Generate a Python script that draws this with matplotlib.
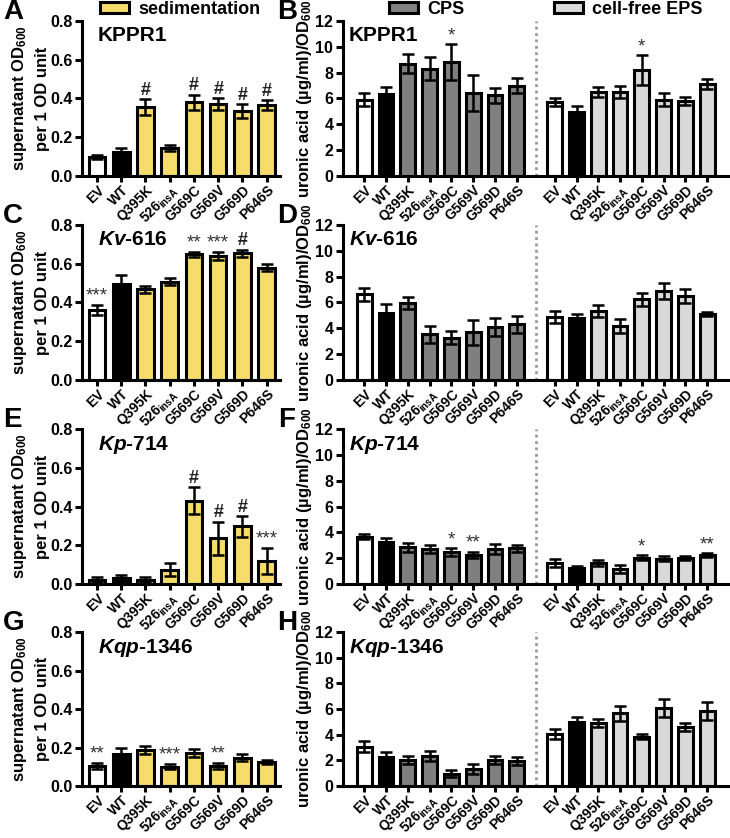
import matplotlib
matplotlib.use("Agg")
import matplotlib.pyplot as plt
from matplotlib.patches import Patch
import numpy as np

plt.rcParams['font.family'] = ['Liberation Sans', 'DejaVu Sans']
plt.rcParams['font.weight'] = 'bold'
plt.rcParams['mathtext.fontset'] = 'custom'
plt.rcParams['mathtext.rm'] = 'Liberation Sans:bold'
plt.rcParams['mathtext.bf'] = 'Liberation Sans:bold'
plt.rcParams['mathtext.it'] = 'Liberation Sans:italic:bold'

strains = ["EV", "WT", "Q395K", r"526$_{\mathrm{insA}}$", "G569C", "G569V", "G569D", "P646S"]

# sedimentation (supernatant OD600 per 1 OD unit)
sed_A = [0.10, 0.125, 0.355, 0.145, 0.38, 0.37, 0.335, 0.365]
sed_A_err = [0.01, 0.02, 0.04, 0.015, 0.04, 0.03, 0.035, 0.025]
sed_A_sig = ["", "", "#", "", "#", "#", "#", "#"]

sed_C = [0.36, 0.495, 0.468, 0.507, 0.648, 0.64, 0.654, 0.58]
sed_C_err = [0.025, 0.045, 0.017, 0.018, 0.013, 0.022, 0.017, 0.017]
sed_C_sig = ["***", "", "", "", "**", "***", "#", ""]

sed_E = [0.022, 0.031, 0.022, 0.074, 0.43, 0.235, 0.297, 0.118]
sed_E_err = [0.012, 0.014, 0.014, 0.033, 0.07, 0.085, 0.052, 0.068]
sed_E_sig = ["", "", "", "", "#", "#", "#", "***"]

sed_G = [0.104, 0.165, 0.187, 0.10, 0.17, 0.104, 0.147, 0.125]
sed_G_err = [0.014, 0.03, 0.02, 0.012, 0.02, 0.014, 0.017, 0.01]
sed_G_sig = ["**", "", "", "***", "", "**", "", ""]

# uronic acid: CPS and cell-free EPS
cps_B = [5.9, 6.36, 8.7, 8.3, 8.8, 6.4, 6.25, 7.0]
cps_B_err = [0.5, 0.5, 0.75, 0.9, 1.4, 1.4, 0.6, 0.6]
cps_B_sig = ["", "", "", "", "*", "", "", ""]
eps_B = [5.75, 4.96, 6.5, 6.5, 8.2, 5.9, 5.8, 7.1]
eps_B_err = [0.3, 0.45, 0.4, 0.5, 1.15, 0.5, 0.3, 0.4]
eps_B_sig = ["", "", "", "", "*", "", "", ""]

cps_D = [6.65, 5.16, 5.98, 3.54, 3.28, 3.69, 4.08, 4.31]
cps_D_err = [0.5, 0.72, 0.46, 0.64, 0.52, 0.95, 0.7, 0.67]
cps_D_sig = [""] * 8
eps_D = [4.9, 4.77, 5.34, 4.2, 6.24, 6.89, 6.5, 5.08]
eps_D_err = [0.46, 0.34, 0.44, 0.54, 0.52, 0.64, 0.52, 0.15]
eps_D_sig = [""] * 8

cps_F = [3.65, 3.29, 2.84, 2.71, 2.45, 2.24, 2.71, 2.76]
cps_F_err = [0.2, 0.26, 0.37, 0.32, 0.32, 0.26, 0.39, 0.26]
cps_F_sig = ["", "", "", "", "*", "**", "", ""]
eps_F = [1.63, 1.26, 1.63, 1.18, 2.05, 1.97, 2.0, 2.24]
eps_F_err = [0.29, 0.13, 0.21, 0.32, 0.18, 0.18, 0.13, 0.13]
eps_F_sig = ["", "", "", "", "*", "", "", "**"]

cps_H = [3.07, 2.29, 2.03, 2.34, 0.96, 1.33, 2.03, 1.95]
cps_H_err = [0.44, 0.36, 0.31, 0.39, 0.29, 0.36, 0.31, 0.34]
cps_H_sig = [""] * 8
eps_H = [4.09, 5.0, 4.9, 5.65, 3.85, 6.07, 4.6, 5.83]
eps_H_err = [0.39, 0.39, 0.31, 0.55, 0.18, 0.7, 0.34, 0.68]
eps_H_sig = [""] * 8

titles = ["KPPR1", "$Kv$-616", "$Kp$-714", "$Kqp$-1346"]
letters_left = ["A", "C", "E", "G"]
letters_right = ["B", "D", "F", "H"]

YELLOW = "#F6DC6A"
GRAY = "#808080"
LGRAY = "#D9D9D9"

W, H = 730, 838
fig = plt.figure(figsize=(W / 100, H / 100), dpi=100)

tops = [21, 225, 429, 632]
bots = [176, 380, 584, 786]

LW = 2.2
left_colors = ["white", "black"] + [YELLOW] * 6
cps_colors = ["white", "black"] + [GRAY] * 6
eps_colors = ["white", "black"] + [LGRAY] * 6

def style_axes(ax):
    for s in ["top", "right"]:
        ax.spines[s].set_visible(False)
    for s in ["left", "bottom"]:
        ax.spines[s].set_linewidth(LW)
    ax.tick_params(axis="both", width=LW, length=5, labelsize=11.5, pad=2)
    ax.tick_params(axis="x", labelsize=10, pad=0.5, length=4.5)
    for lab in ax.get_yticklabels():
        lab.set_fontweight("bold")

def draw_bars(ax, x, vals, errs, colors, sigs, sig_off):
    ax.bar(x, vals, width=0.68, color=colors, edgecolor="black", linewidth=LW, zorder=2)
    ax.errorbar(x, vals, yerr=errs, fmt="none", ecolor="black", elinewidth=1.8,
                capsize=4.5, capthick=1.8, zorder=3)
    for xi, v, e, s in zip(x, vals, errs, sigs):
        if s:
            if s == "#":
                ax.text(xi, v + e + sig_off, s, ha="center", va="bottom", fontsize=13,
                        fontweight="bold", color="#222222")
            else:
                ax.text(xi, v + e + sig_off, s, ha="center", va="bottom", fontsize=13.5,
                        fontweight="normal", color="#333333")

left_data = [(sed_A, sed_A_err, sed_A_sig), (sed_C, sed_C_err, sed_C_sig),
             (sed_E, sed_E_err, sed_E_sig), (sed_G, sed_G_err, sed_G_sig)]
right_data = [(cps_B, cps_B_err, cps_B_sig, eps_B, eps_B_err, eps_B_sig),
              (cps_D, cps_D_err, cps_D_sig, eps_D, eps_D_err, eps_D_sig),
              (cps_F, cps_F_err, cps_F_sig, eps_F, eps_F_err, eps_F_sig),
              (cps_H, cps_H_err, cps_H_sig, eps_H, eps_H_err, eps_H_sig)]

xl = np.arange(len(strains))
gap_start = 8.75
xr2 = xl + gap_start

for i in range(4):
    t, b = tops[i], bots[i]
    # left axes
    L0, L1 = 82, 280
    axL = fig.add_axes([L0 / W, 1 - b / H, (L1 - L0) / W, (b - t) / H])
    vals, errs, sigs = left_data[i]
    draw_bars(axL, xl, vals, errs, left_colors, sigs, 0.003)
    axL.set_xlim(-0.62, 7.55)
    axL.set_ylim(0, 0.8)
    axL.set_yticks([0, 0.2, 0.4, 0.6, 0.8])
    axL.set_yticklabels(["0.0", "0.2", "0.4", "0.6", "0.8"])
    axL.set_xticks(xl)
    axL.set_xticklabels(strains, rotation=45, ha="right", rotation_mode="anchor", fontweight="bold")
    style_axes(axL)
    axL.set_ylabel("supernatant OD$_{\\mathrm{600}}$\nper 1 OD unit", fontsize=12, fontweight="bold",
                   linespacing=1.5)
    axL.yaxis.set_label_coords(-0.16, 0.5)
    axL.text(0.08, 0.97, titles[i], transform=axL.transAxes, ha="left", va="top",
             fontsize=15, fontweight="bold")
    fig.text(3 / W, 1 - (tops[i] - 9) / H, letters_left[i], ha="left", va="center",
             fontsize=20, fontweight="bold")

    # right axes
    R0, R1 = 343, 730
    axR = fig.add_axes([R0 / W, 1 - b / H, (R1 - R0) / W, (b - t) / H])
    c, ce, cs, e, ee, es = right_data[i]
    draw_bars(axR, xl, c, ce, cps_colors, cs, 0.0)
    draw_bars(axR, xr2, e, ee, eps_colors, es, 0.0)
    axR.axvline((7 + gap_start) / 2, color="#999999", linestyle=(0, (1, 1.3)), linewidth=2, zorder=1)
    axR.set_xlim(-0.98, 16.8)
    axR.set_ylim(0, 12)
    axR.set_yticks([0, 2, 4, 6, 8, 10, 12])
    axR.set_xticks(np.concatenate([xl, xr2]))
    axR.set_xticklabels(strains + strains, rotation=45, ha="right", rotation_mode="anchor",
                        fontweight="bold")
    style_axes(axR)
    axR.set_ylabel("uronic acid (µg/ml)/OD$_{\\mathrm{600}}$", fontsize=12, fontweight="bold")
    axR.yaxis.set_label_coords(-0.075, 0.5)
    axR.text(0.015, 0.97, titles[i], transform=axR.transAxes, ha="left", va="top",
             fontsize=15, fontweight="bold")
    fig.text(287 / W, 1 - (tops[i] - 9) / H, letters_right[i], ha="center", va="center",
             fontsize=20, fontweight="bold")

# legends
def add_leg(label, color, x_px):
    h = Patch(facecolor=color, edgecolor="black", linewidth=2.2, label=label)
    fig.legend(handles=[h], loc="center left", bbox_to_anchor=(x_px / W, 1 - 9 / H),
               frameon=False, handlelength=1.6, handleheight=0.55, handletextpad=0.5,
               borderpad=0, borderaxespad=0, prop={"size": 13, "weight": "bold"})

add_leg("sedimentation", YELLOW, 100)
add_leg("CPS", GRAY, 389)
add_leg("cell-free EPS", LGRAY, 554)

fig.savefig("out.png", dpi=100)
